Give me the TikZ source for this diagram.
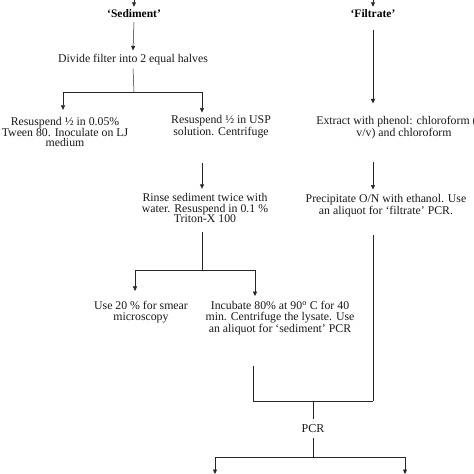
\documentclass[tikz,border=0pt]{standalone}
\usepackage{fontspec}
\setmainfont{Liberation Serif}
\usetikzlibrary{arrows.meta}
\begin{document}
\begin{tikzpicture}[x=1pt,y=-1pt,
  txt/.style={font=\fontsize{11.8}{10.8}\selectfont, align=center, inner sep=0pt, text=black!90},
  hdr/.style={font=\fontsize{11.5}{11}\selectfont\bfseries, inner sep=0pt},
  thin/.style={line width=0.5pt, draw=black!85},
  thk/.style={line width=0.9pt, draw=black!85},
  arr/.style={-{Triangle[length=4.5pt,width=4pt]}},
]
\useasboundingbox[fill=white] (0,0) rectangle (474,474);

% headers
\node[hdr] (sed) at (134,14) {‘Sediment’};
\node[hdr] (fil) at (373,14) {‘Filtrate’};
\coordinate (topS) at (134,-12);
\coordinate (topF) at (373,-12);
\draw[thin,arr] (topS) -- ([yshift=3pt]sed.north);
\draw[thin,arr] (topF) -- ([yshift=3pt]fil.north);

% sediment column
\node[txt] (div) at (133,60) {Divide filter into 2 equal halves};
\draw[thin,arr] ([yshift=-4pt]sed.south) -- ([yshift=4pt]div.north);

\node[txt] (r1) at (65,132) {Resuspend ½ in 0.05\%\\Tween 80. Inoculate on LJ\\medium};
\node[txt] (r2) at (221,127) {Resuspend ½ in USP\\solution. Centrifuge};
\coordinate (b1) at (134,92);
\coordinate (b1L) at (63,92);
\coordinate (b1R) at (202,92);
\draw[thin] ([yshift=-3pt]div.south) -- (b1);
\draw[thk] (b1L) -- (b1R);
\draw[thin,arr] (b1L) -- ([yshift=7pt]r1.north -| b1L);
\draw[thin,arr] (b1R) -- ([yshift=3pt]r2.north -| b1R);

\node[txt] (rin) at (205,208) {Rinse sediment twice with\\water. Resuspend in 0.1 \%\\Triton-X 100};
\draw[thk,arr] ([yshift=-25pt]r2.south -| b1R) -- ([yshift=4pt]rin.north -| b1R);

\coordinate (b2) at (202,270);
\coordinate (b2L) at (135,270);
\coordinate (b2R) at (255,270);
\node[txt] (use) at (141,312) {Use 20 \% for smear\\microscopy};
\node[txt] (inc) at (280,318) {Incubate 80\% at 90\textsuperscript{o} C for 40\\min. Centrifuge the lysate. Use\\an aliquot for ‘sediment’ PCR};
\draw[thk] ([yshift=-9pt]rin.south -| b2) -- (b2);
\draw[thk] (b2L) -- (b2R);
\draw[thin,arr] (b2L) -- ([yshift=10pt]use.north -| b2L);
\draw[thin,arr] (b2R) -- ([yshift=5pt]inc.north -| b2R);

% filtrate column
\node[txt] (ext) at (404,128) {Extract with phenol: chloroform (1:1\\v/v) and chloroform};
\draw[thk,arr] ([yshift=-12pt]fil.south) -- ([yshift=13pt]ext.north -| fil);
\node[txt] (pre) at (386,206) {Precipitate O/N with ethanol. Use\\an aliquot for ‘filtrate’ PCR.};
\draw[thin,arr] ([yshift=-22pt]ext.south -| fil) -- ([yshift=5pt]pre.north -| fil);

% join to PCR
\coordinate (jL) at (253,401);
\coordinate (jR) at (373,401);
\coordinate (jM) at (313,401);
\draw[thk] ([yshift=-31pt]inc.south -| jL) -- (jL);
\draw[thin] ([yshift=-18pt]pre.south -| jR) -- (jR);
\draw[thk] (jL) -- (jR);
\node[txt,font=\fontsize{12}{12}\selectfont] (pcr) at (313,429) {PCR};
\draw[thin] (jM) -- ([yshift=6pt]pcr.north);
\coordinate (k) at (313,457);
\coordinate (kL) at (215,457);
\coordinate (kR) at (405,457);
\draw[thk] ([yshift=-5pt]pcr.south) -- (k);
\draw[thk] (kL) -- (kR);
\coordinate (eL) at (215,474);
\coordinate (eR) at (405,474);
\draw[thin,arr] (kL) -- (eL);
\draw[thin,arr] (kR) -- (eR);
\end{tikzpicture}
\end{document}
